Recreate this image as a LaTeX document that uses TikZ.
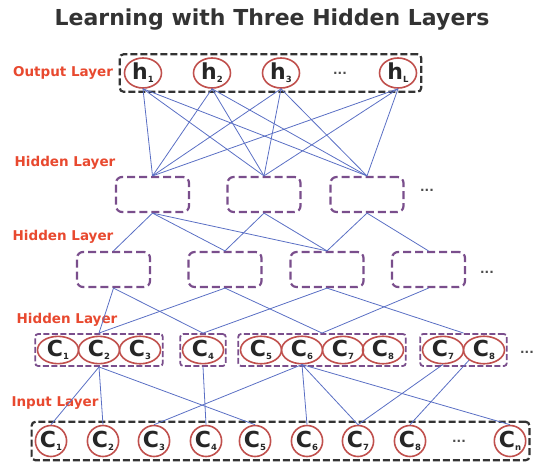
\documentclass[tikz,border=0pt]{standalone}
\usepackage{fontspec}
\setmainfont{DejaVu Sans}
\usetikzlibrary{shapes.geometric,fit}
\definecolor{circred}{HTML}{C0504D}
\definecolor{hidpurple}{HTML}{7A4E8C}
\definecolor{linkblue}{HTML}{5A6FC4}
\definecolor{labelred}{HTML}{E8492F}
\definecolor{headgray}{HTML}{333333}
\def\sub#1{\raisebox{-3pt}{\fontsize{8.5}{8.5}\selectfont #1}}
\tikzset{
	neuron/.style={ellipse, draw=circred, line width=1.6pt, inner sep=0pt, text=black!85, font=\fontsize{22}{22}\selectfont\bfseries},
	outneuron/.style={neuron, minimum width=37pt, minimum height=30pt},
	inneuron/.style={neuron, minimum width=31pt, minimum height=31pt},
	midneuron/.style={neuron, minimum width=41pt, minimum height=27pt},
	layerbox/.style={draw=black!80, line width=2.2pt, dash pattern=on 7pt off 3pt, rounded corners=4pt, inner xsep=4pt, inner ysep=3pt},
	hidbox/.style={draw=hidpurple, line width=2.2pt, dash pattern=on 8pt off 4pt, rounded corners=6pt, minimum width=73pt, minimum height=35pt},
	groupbox/.style={draw=hidpurple, line width=1.8pt, dash pattern=on 6pt off 2.5pt, rounded corners=3pt, inner sep=1.5pt},
	layername/.style={text=labelred, font=\fontsize{13.5}{14}\selectfont\bfseries},
	moredots/.style={text=black!70, font=\fontsize{12}{12}\selectfont\bfseries},
	heading/.style={text=headgray, font=\fontsize{22}{24}\selectfont\bfseries},
	link/.style={draw=linkblue, line width=0.8pt},
}

\begin{document}
\begin{tikzpicture}[x=1pt, y=-1pt]
	%%%%% START %%%%%
	\useasboundingbox (0,0) rectangle (537,464);
	
	\node[heading] (head) at (272,20) {Learning with Three Hidden Layers};
	
	% output layer
	\node[outneuron] (h1) at (143,73) {h\sub{1}};
	\node[outneuron] (h2) at (212,73) {h\sub{2}};
	\node[outneuron] (h3) at (281,73) {h\sub{3}};
	\node[moredots] (hdots) at (340,73) {...};
	\node[outneuron] (hL) at (398,73) {h\sub{L}};
	\node[layerbox, fit=(h1)(hL)] (outlayer) {};
	\node[layername] (outname) at (63,73) {Output Layer};
	
	% hidden layers
	\node[layername] (hidname1) at (65,163) {Hidden Layer};
	\node[hidbox] (a1) at (152.5,194.5) {};
	\node[hidbox] (a2) at (264,194.5) {};
	\node[hidbox] (a3) at (367,194.5) {};
	\node[moredots] (adots) at (427,190) {...};
	
	\node[layername] (hidname2) at (63,237) {Hidden Layer};
	\node[hidbox] (b1) at (113.5,269.5) {};
	\node[hidbox] (b2) at (225,269.5) {};
	\node[hidbox] (b3) at (327,269.5) {};
	\node[hidbox] (b4) at (428.5,269.5) {};
	\node[moredots] (bdots) at (487,272) {...};
	
	\node[layername] (hidname3) at (67,320) {Hidden Layer};
	\node[midneuron] (c1) at (58,350) {C\sub{1}};
	\node[midneuron] (c2) at (99,350) {C\sub{2}};
	\node[midneuron] (c3) at (140,350) {C\sub{3}};
	\node[midneuron] (c4) at (203,350) {C\sub{4}};
	\node[midneuron] (c5) at (261,350) {C\sub{5}};
	\node[midneuron] (c6) at (302,350) {C\sub{6}};
	\node[midneuron] (c7) at (343,350) {C\sub{7}};
	\node[midneuron] (c8) at (383,350) {C\sub{8}};
	\node[midneuron] (c9) at (443,350) {C\sub{7}};
	\node[midneuron] (c10) at (484,350) {C\sub{8}};
	\node[moredots] (cdots) at (527,352) {...};
	\node[groupbox, fit=(c1)(c3)] (g1) {};
	\node[groupbox, fit=(c4)] (g2) {};
	\node[groupbox, fit=(c5)(c8)] (g3) {};
	\node[groupbox, fit=(c9)(c10)] (g4) {};
	
	% input layer
	\node[layername] (inname) at (55,403) {Input Layer};
	\node[inneuron] (d1) at (51,441) {C\sub{1}};
	\node[inneuron] (d2) at (103,441) {C\sub{2}};
	\node[inneuron] (d3) at (154,441) {C\sub{3}};
	\node[inneuron] (d4) at (206,441) {C\sub{4}};
	\node[inneuron] (d5) at (255,441) {C\sub{5}};
	\node[inneuron] (d6) at (307,441) {C\sub{6}};
	\node[inneuron] (d7) at (358,441) {C\sub{7}};
	\node[inneuron] (d8) at (410,441) {C\sub{8}};
	\node[moredots] (ddots) at (459,441) {...};
	\node[inneuron] (dn) at (510,441) {C\sub{n}};
	\node[layerbox, inner xsep=3pt, fit=(d1)(dn)] (inlayer) {};
	
	% output -> hidden 1
	\draw[link] (h1.south) -- (a1.north);
	\draw[link] (h1.south) -- (a2.north);
	\draw[link] (h1.south) -- (a3.north);
	\draw[link] (h2.south) -- (a1.north);
	\draw[link] (h2.south) -- (a2.north);
	\draw[link] (h2.south) -- (a3.north);
	\draw[link] (h3.south) -- (a1.north);
	\draw[link] (h3.south) -- (a2.north);
	\draw[link] (h3.south) -- (a3.north);
	\draw[link] (hL.south) -- (a1.north);
	\draw[link] (hL.south) -- (a2.north);
	\draw[link] (hL.south) -- (a3.north);
	
	% hidden 1 -> hidden 2
	\draw[link] (a1.south) -- (b1.north);
	\draw[link] (a1.south) -- (b2.north);
	\draw[link] (a1.south) -- (b3.north);
	\draw[link] (a2.south) -- (b2.north);
	\draw[link] (a2.south) -- (b3.north);
	\draw[link] (a3.south) -- (b3.north);
	\draw[link] (a3.south) -- (b4.north);
	
	% hidden 2 -> hidden 3
	\draw[link] (b1.south) -- (g1.north);
	\draw[link] (b1.south) -- (g2.north);
	\draw[link] (b2.south) -- (g1.north);
	\draw[link] (b2.south) -- (g3.north);
	\draw[link] (b3.south) -- (g2.north);
	\draw[link] (b3.south) -- (g4.north);
	\draw[link] (b4.south) -- (g3.north);
	
	% hidden 3 -> input
	\draw[link] (g1.south) -- (d1.north);
	\draw[link] (g1.south) -- (d2.north);
	\draw[link] (g1.south) -- (d5.north);
	\draw[link] (g2.south) -- (d4.north);
	\draw[link] (c6.south) -- (d3.north);
	\draw[link] (c6.south) -- (d6.north);
	\draw[link] (c6.south) -- (d7.north);
	\draw[link] (c6.south) -- (dn.north);
	\draw[link] (c9.south) -- (d7.north);
	\draw[link] (c10.south west) -- (d8.north);
	
	%%%%% END %%%%%
\end{tikzpicture}
\end{document}
